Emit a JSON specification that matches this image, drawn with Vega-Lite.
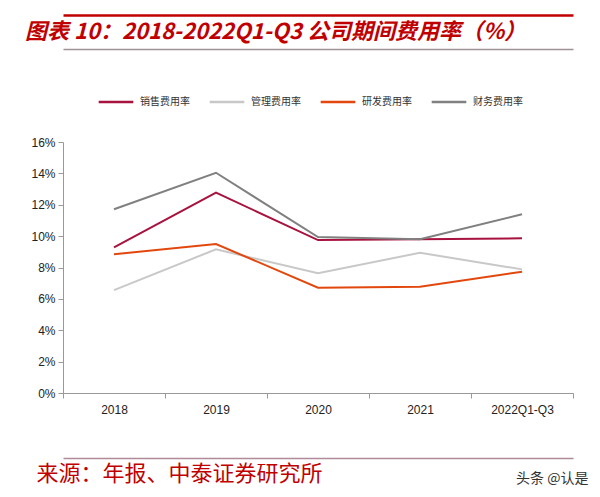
{
  "$schema": "https://vega.github.io/schema/vega-lite/v6.json",
  "autosize": {"type": "none"},
  "width": 510,
  "height": 251,
  "padding": {"left": 63, "top": 142, "right": 27, "bottom": 104},
  "background": "white",
  "config": {"view": {"stroke": null}, "font": "Liberation Sans"},
  "title": {
    "text": "图表 10：2018-2022Q1-Q3 公司期间费用率（%）",
    "anchor": "start",
    "frame": "group",
    "font": "Noto Sans CJK SC",
    "fontSize": 22,
    "fontWeight": "bold",
    "fontStyle": "italic",
    "color": "#C00000",
    "baseline": "middle",
    "dx": -38,
    "dy": 39,
    "offset": 0
  },
  "data": {"values": [
    {"year": "2018", "series": "销售费用率", "value": 9.29},
    {"year": "2019", "series": "销售费用率", "value": 12.77},
    {"year": "2020", "series": "销售费用率", "value": 9.75},
    {"year": "2021", "series": "销售费用率", "value": 9.8},
    {"year": "2022Q1-Q3", "series": "销售费用率", "value": 9.86},
    {"year": "2018", "series": "管理费用率", "value": 6.56},
    {"year": "2019", "series": "管理费用率", "value": 9.16},
    {"year": "2020", "series": "管理费用率", "value": 7.63},
    {"year": "2021", "series": "管理费用率", "value": 8.94},
    {"year": "2022Q1-Q3", "series": "管理费用率", "value": 7.88},
    {"year": "2018", "series": "研发费用率", "value": 8.84},
    {"year": "2019", "series": "研发费用率", "value": 9.5},
    {"year": "2020", "series": "研发费用率", "value": 6.71},
    {"year": "2021", "series": "研发费用率", "value": 6.78},
    {"year": "2022Q1-Q3", "series": "研发费用率", "value": 7.73},
    {"year": "2018", "series": "财务费用率", "value": 11.71},
    {"year": "2019", "series": "财务费用率", "value": 14.04},
    {"year": "2020", "series": "财务费用率", "value": 9.94},
    {"year": "2021", "series": "财务费用率", "value": 9.8},
    {"year": "2022Q1-Q3", "series": "财务费用率", "value": 11.39}
  ]},
  "layer": [
    {
      "mark": {"type": "line", "strokeWidth": 2},
      "encoding": {
        "x": {
          "field": "year", "type": "nominal", "sort": null, "bandPosition": 0.5,
          "scale": {"type": "band", "paddingInner": 0, "paddingOuter": 0},
          "axis": {
            "orient": "bottom",
            "labelAngle": 0,
            "labelFont": "Liberation Sans",
            "labelFontSize": 12,
            "labelColor": "#222222",
            "labelPadding": 6,
            "tickBand": "extent",
            "tickSize": 5,
            "tickColor": "#999999",
            "domainColor": "#999999",
            "title": "来源：年报、中泰证券研究所",
            "titleFont": "Noto Sans CJK SC",
            "titleFontSize": 22,
            "titleFontWeight": "normal",
            "titleColor": "#C00000",
            "titleAnchor": "start",
            "titleAlign": "left",
            "titleBaseline": "middle",
            "titleX": -27,
            "titleY": 80
          }
        },
        "y": {
          "field": "value", "type": "quantitative",
          "scale": {"domain": [0, 16], "nice": false},
          "axis": {
            "values": [0, 2, 4, 6, 8, 10, 12, 14, 16],
            "labelExpr": "datum.value + '%'",
            "labelFont": "Liberation Sans",
            "labelFontSize": 12,
            "labelColor": "#222222",
            "labelPadding": 3,
            "tickSize": 5,
            "tickColor": "#999999",
            "domainColor": "#999999",
            "grid": false,
            "title": "头条 @认是",
            "titleFont": "Noto Sans CJK SC",
            "titleFontSize": 14,
            "titleFontWeight": "normal",
            "titleColor": "#333333",
            "titleAngle": 0,
            "titleAlign": "right",
            "titleBaseline": "middle",
            "titleX": 525,
            "titleY": 336
          }
        },
        "color": {
          "field": "series", "type": "nominal",
          "scale": {
            "domain": ["销售费用率", "管理费用率", "研发费用率", "财务费用率"],
            "range": ["#A8123F", "#C8C8C8", "#E2470E", "#808080"]
          },
          "legend": {
            "orient": "none",
            "direction": "horizontal",
            "legendX": 34,
            "legendY": -59,
            "title": null,
            "symbolType": "stroke",
            "symbolSize": 1200,
            "symbolStrokeWidth": 2.5,
            "labelFont": "Noto Sans CJK SC",
            "labelFontSize": 10,
            "labelColor": "#333333",
            "labelOffset": 5,
            "columnPadding": 14
          }
        }
      }
    },
    {
      "mark": {"type": "line", "opacity": 0},
      "encoding": {
        "x": {
          "field": "year", "type": "nominal", "sort": null, "bandPosition": 0.5,
          "axis": {"orient": "top", "offset": 127, "labels": false, "ticks": false, "title": null, "domainColor": "#C00000", "domainWidth": 2.5}
        }
      }
    },
    {
      "mark": {"type": "line", "opacity": 0},
      "encoding": {
        "x": {
          "field": "year", "type": "nominal", "sort": null, "bandPosition": 0.5,
          "axis": {"orient": "top", "offset": 93, "labels": false, "ticks": false, "title": null, "domainColor": "#A09098", "domainWidth": 1.5}
        }
      }
    },
    {
      "mark": {"type": "line", "opacity": 0},
      "encoding": {
        "x": {
          "field": "year", "type": "nominal", "sort": null, "bandPosition": 0.5,
          "axis": {"orient": "bottom", "offset": 65, "labels": false, "ticks": false, "title": null, "domainColor": "#B08A98", "domainWidth": 1.5}
        }
      }
    }
  ],
  "resolve": {"axis": {"x": "independent"}}
}
